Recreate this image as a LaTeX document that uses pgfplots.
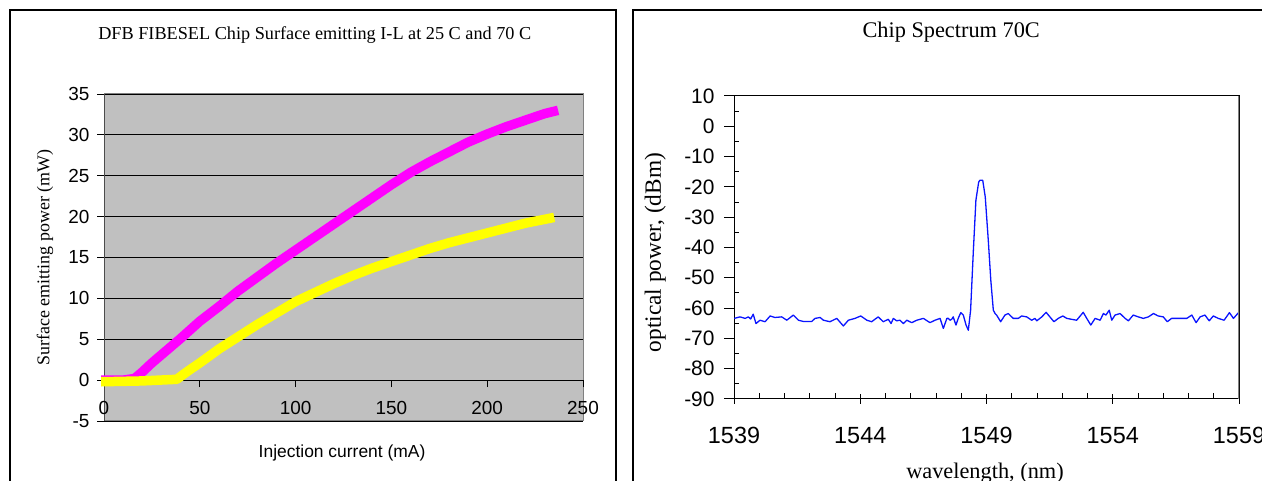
\documentclass[border=0pt]{standalone}
\usepackage{pgfplots}
\pgfplotsset{compat=1.18}
\usepackage{fontspec}
\setmainfont{Liberation Serif}
\newfontfamily\arial{Liberation Sans}
\definecolor{plotgray}{RGB}{192,192,192}
\definecolor{bordergray}{RGB}{128,128,128}
\definecolor{mag}{RGB}{255,0,255}
\definecolor{yel}{RGB}{255,255,0}
\definecolor{specblue}{RGB}{10,20,255}

\pgfplotstableread{
I P
-1.5 0
10 0
16 0.2
20 1.0
25 2.1
30 3.1
35 4.1
40 5.1
50 7.2
60 9.0
70 10.9
80 12.6
90 14.3
100 15.9
110 17.5
120 19.1
130 20.7
140 22.3
150 23.9
160 25.4
170 26.7
180 27.9
190 29.1
200 30.1
210 31.0
220 31.8
230 32.6
237 33.0
}\warm

\pgfplotstableread{
I P
-1.5 -0.2
20 -0.1
38 0.1
42 0.8
45 1.3
50 2.1
60 3.8
70 5.3
80 6.8
90 8.2
100 9.6
110 10.7
120 11.8
130 12.8
140 13.7
150 14.5
160 15.3
170 16.1
180 16.8
190 17.4
200 18.0
210 18.6
220 19.2
235 19.9
}\hot

\pgfplotstableread{
nm dBm
1539.01 -63.4
1539.24 -62.9
1539.44 -63.4
1539.57 -62.9
1539.66 -63.6
1539.76 -62.0
1539.87 -65.1
1540.03 -64.0
1540.23 -64.5
1540.43 -62.6
1540.62 -63.1
1540.89 -62.9
1541.09 -64.0
1541.35 -62.3
1541.55 -64.0
1541.74 -64.4
1542.08 -64.4
1542.21 -63.4
1542.41 -63.1
1542.54 -64.0
1542.80 -64.5
1543.07 -63.4
1543.33 -65.9
1543.53 -64.0
1543.79 -63.4
1544.02 -62.6
1544.26 -64.0
1544.45 -64.5
1544.71 -62.9
1544.91 -64.5
1545.11 -63.7
1545.22 -65.1
1545.31 -63.4
1545.44 -64.2
1545.57 -64.0
1545.71 -65.1
1545.84 -64.0
1546.04 -64.8
1546.24 -64.0
1546.50 -63.4
1546.76 -64.8
1546.96 -64.0
1547.16 -63.4
1547.29 -66.7
1547.43 -63.4
1547.49 -63.4
1547.55 -64.0
1547.62 -63.7
1547.68 -62.9
1547.79 -65.6
1547.88 -63.4
1547.98 -61.5
1548.08 -62.3
1548.19 -65.6
1548.28 -67.3
1548.37 -60.7
1548.48 -40.9
1548.58 -24.4
1548.69 -18.4
1548.74 -17.8
1548.85 -17.8
1548.95 -23.3
1549.07 -37.6
1549.17 -50.8
1549.27 -60.7
1549.34 -61.8
1549.40 -62.3
1549.56 -64.5
1549.73 -62.3
1549.86 -61.8
1550.06 -63.4
1550.26 -63.4
1550.39 -62.6
1550.59 -62.9
1550.79 -64.0
1550.92 -63.4
1550.99 -64.2
1551.19 -62.9
1551.36 -61.4
1551.51 -62.9
1551.67 -64.5
1551.84 -63.4
1552.02 -62.6
1552.18 -63.4
1552.37 -63.7
1552.57 -64.0
1552.83 -61.4
1552.97 -63.4
1553.13 -65.6
1553.30 -63.4
1553.50 -64.0
1553.63 -61.8
1553.73 -62.3
1553.86 -60.7
1553.96 -64.0
1554.09 -62.3
1554.29 -61.8
1554.49 -63.4
1554.62 -64.2
1554.81 -62.3
1555.01 -62.9
1555.21 -63.4
1555.41 -62.9
1555.61 -61.8
1555.80 -62.6
1556.00 -62.9
1556.16 -64.5
1556.33 -63.4
1556.53 -63.4
1556.73 -63.4
1556.93 -63.4
1557.13 -62.3
1557.30 -64.8
1557.46 -62.9
1557.65 -62.3
1557.82 -64.2
1557.98 -62.6
1558.18 -63.4
1558.41 -64.0
1558.62 -61.5
1558.78 -63.4
1558.98 -61.5
1559.00 -61.3
}\spectrum

\begin{document}
\begin{tikzpicture}[x=1bp,y=1bp]
\useasboundingbox (0,0) rectangle (1262,481);
\clip (0,0) rectangle (1262,481);
\draw[line width=2.2bp] (10,-10) -- (10,471) -- (616,471) -- (616,-10);
\draw[line width=1.6bp] (633,-10) -- (633,471) -- (1290,471);

% ---------------- left chart ----------------
\begin{axis}[
  at={(104bp,60bp)}, anchor=south west,
  scale only axis, width=479bp, height=327bp,
  xmin=0, xmax=250, ymin=-5, ymax=35,
  axis x line=middle, axis y line=left,
  x axis line style={-, black, line width=1bp},
  y axis line style={-, black!70, line width=1bp},
  hide obscured x ticks=false,
  axis background/.style={fill=plotgray, draw=bordergray, line width=1bp},
  xtick={0,50,...,250}, ytick={-5,0,...,35},
  tick align=outside, major tick length=7bp,
  tick style={black, line width=0.8bp},
  ymajorgrids, grid style={black, line width=0.8bp},
  /pgf/number format/assume math mode=true,
  tick label style={font=\arial\fontsize{19}{19}\selectfont},
  x tick label style={anchor=north, yshift=-11bp},
  y tick label style={anchor=east, xshift=-4bp},
  xlabel={Injection current (mA)},
  xlabel style={font=\arial\fontsize{17.5}{18}\selectfont, at={(axis description cs:0.497,-0.098)}, anchor=center},
  ylabel={Surface emitting power (mW)},
  ylabel style={font=\fontsize{18}{18}\selectfont, at={(axis description cs:-0.123,0.5)}, anchor=center, rotate=0},
  title={DFB FIBESEL Chip Surface emitting I-L at 25 C and 70 C},
  title style={font=\fontsize{18.3}{19}\selectfont, at={(axis description cs:0.44,1.163)}, anchor=center},
  clip=false,
]
\addplot[mag, line width=9.5bp, line join=round] table[x=I,y=P] {\warm};
\addplot[yel, line width=9.5bp, line join=round] table[x=I,y=P] {\hot};
\end{axis}

% ---------------- right chart ----------------
\begin{axis}[
  at={(734bp,82bp)}, anchor=south west,
  scale only axis, width=505bp, height=303bp,
  xmin=1539, xmax=1559, ymin=-90, ymax=10,
  axis line style={black, line width=1bp},
  xtick={1539,1544,1549,1554,1559},
  ytick={-90,-80,...,10},
  x tick label style={/pgf/number format/1000 sep={}, font=\arial\fontsize{23.5}{24}\selectfont, anchor=north, yshift=-20bp},
  y tick label style={font=\arial\fontsize{21}{21}\selectfont, anchor=east, xshift=-6bp},
  /pgf/number format/assume math mode=true,
  xtick pos=bottom, ytick pos=left,
  xtick align=center, ytick align=outside,
  major tick length=10bp,
  tick style={black, line width=1bp},
  extra x ticks={1540,1541,1542,1543,1545,1546,1547,1548,1550,1551,1552,1553,1555,1556,1557,1558},
  extra x tick labels={},
  extra x tick style={tick align=inside, major tick length=6bp},
  extra y ticks={-85,-75,-65,-55,-45,-35,-25,-15,-5,5},
  extra y tick labels={},
  extra y tick style={tick align=inside, major tick length=5bp},
  xlabel={wavelength, (nm)},
  xlabel style={font=\fontsize{22.4}{23}\selectfont, at={(axis description cs:0.497,-0.245)}, anchor=center},
  ylabel={optical power, (dBm)},
  ylabel style={font=\fontsize{23.4}{24}\selectfont, at={(axis description cs:-0.156,0.483)}, anchor=center, rotate=0},
  title={Chip Spectrum 70C},
  title style={font=\fontsize{22.4}{23}\selectfont, at={(axis description cs:0.43,1.19)}, anchor=center},
]
\addplot[specblue, line width=1.3bp, line join=round] table[x=nm,y=dBm] {\spectrum};
\draw[black, line width=2bp] (rel axis cs:0,0) -- (rel axis cs:1,0);
\draw[bordergray, line width=1.2bp] (rel axis cs:1,0) -- (rel axis cs:1,1);
\end{axis}
\end{tikzpicture}
\end{document}
